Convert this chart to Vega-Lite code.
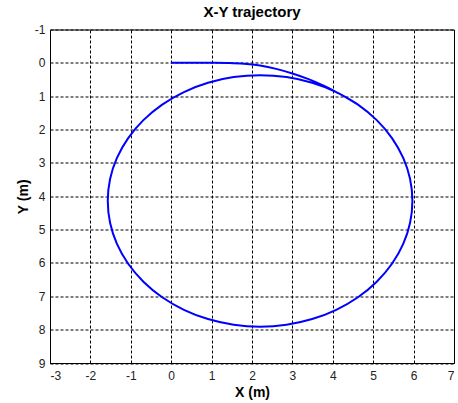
{
  "$schema": "https://vega.github.io/schema/vega-lite/v6.json",
  "width": 404,
  "height": 333.5,
  "autosize": {"type": "none"},
  "padding": {"left": 50, "top": 29.5, "right": 4, "bottom": 40},
  "background": "white",
  "title": {"text": "X-Y trajectory", "font": "Liberation Sans", "fontSize": 15, "fontWeight": "bold", "color": "#000000", "anchor": "middle", "offset": 4},
  "config": {
    "view": {"stroke": "#000000", "strokeWidth": 1},
    "axis": {
      "domainColor": "#000000",
      "grid": true,
      "gridColor": "#000000",
      "gridDash": [3, 2],
      "gridOpacity": 1,
      "gridWidth": 1,
      "ticks": false,
      "labelFont": "Liberation Sans",
      "labelFontSize": 12,
      "labelColor": "#222222",
      "labelExpr": "'' + datum.value",
      "titleFont": "Liberation Sans",
      "titleFontSize": 14,
      "titleFontWeight": "bold",
      "titleColor": "#000000"
    }
  },
  "data": {
    "values": [
      {"order": 0, "x": 0.0, "y": 0.0},
      {"order": 1, "x": 0.5, "y": 0.0},
      {"order": 2, "x": 1.0, "y": 0.0},
      {"order": 3, "x": 1.4, "y": 0.005},
      {"order": 4, "x": 1.8, "y": 0.025},
      {"order": 5, "x": 2.2, "y": 0.08},
      {"order": 6, "x": 2.6, "y": 0.18},
      {"order": 7, "x": 3.0, "y": 0.32},
      {"order": 8, "x": 3.4, "y": 0.49},
      {"order": 9, "x": 3.8, "y": 0.70},
      {"order": 10, "x": 4.085, "y": 0.875},
      {"order": 11, "x": 4.623, "y": 1.252},
      {"order": 12, "x": 5.088, "y": 1.717},
      {"order": 13, "x": 5.465, "y": 2.255},
      {"order": 14, "x": 5.743, "y": 2.851},
      {"order": 15, "x": 5.913, "y": 3.485},
      {"order": 16, "x": 5.970, "y": 4.140},
      {"order": 17, "x": 5.913, "y": 4.795},
      {"order": 18, "x": 5.743, "y": 5.429},
      {"order": 19, "x": 5.465, "y": 6.025},
      {"order": 20, "x": 5.088, "y": 6.563},
      {"order": 21, "x": 4.623, "y": 7.028},
      {"order": 22, "x": 4.085, "y": 7.405},
      {"order": 23, "x": 3.489, "y": 7.683},
      {"order": 24, "x": 2.854, "y": 7.853},
      {"order": 25, "x": 2.200, "y": 7.910},
      {"order": 26, "x": 1.546, "y": 7.853},
      {"order": 27, "x": 0.911, "y": 7.683},
      {"order": 28, "x": 0.315, "y": 7.405},
      {"order": 29, "x": -0.223, "y": 7.028},
      {"order": 30, "x": -0.688, "y": 6.563},
      {"order": 31, "x": -1.065, "y": 6.025},
      {"order": 32, "x": -1.343, "y": 5.429},
      {"order": 33, "x": -1.513, "y": 4.795},
      {"order": 34, "x": -1.570, "y": 4.140},
      {"order": 35, "x": -1.513, "y": 3.485},
      {"order": 36, "x": -1.343, "y": 2.851},
      {"order": 37, "x": -1.065, "y": 2.255},
      {"order": 38, "x": -0.688, "y": 1.717},
      {"order": 39, "x": -0.223, "y": 1.252},
      {"order": 40, "x": 0.315, "y": 0.875},
      {"order": 41, "x": 0.911, "y": 0.597},
      {"order": 42, "x": 1.546, "y": 0.427},
      {"order": 43, "x": 2.200, "y": 0.370},
      {"order": 44, "x": 2.854, "y": 0.427},
      {"order": 45, "x": 3.489, "y": 0.597},
      {"order": 46, "x": 4.085, "y": 0.875},
      {"order": 47, "x": 4.623, "y": 1.252}
    ]
  },
  "mark": {"type": "line", "color": "#0000FF", "strokeWidth": 2, "clip": true, "interpolate": "catmull-rom"},
  "encoding": {
    "x": {
      "field": "x", "type": "quantitative",
      "scale": {"domain": [-3, 7], "nice": false, "zero": false},
      "axis": {"values": [-3, -2, -1, 0, 1, 2, 3, 4, 5, 6, 7], "title": "X (m)", "labelPadding": 7, "titlePadding": 4}
    },
    "y": {
      "field": "y", "type": "quantitative",
      "scale": {"domain": [-1, 9], "nice": false, "zero": false, "reverse": true},
      "axis": {"values": [-1, 0, 1, 2, 3, 4, 5, 6, 7, 8, 9], "title": "Y (m)", "labelPadding": 5, "titlePadding": 4}
    },
    "order": {"field": "order", "type": "quantitative"}
  }
}
